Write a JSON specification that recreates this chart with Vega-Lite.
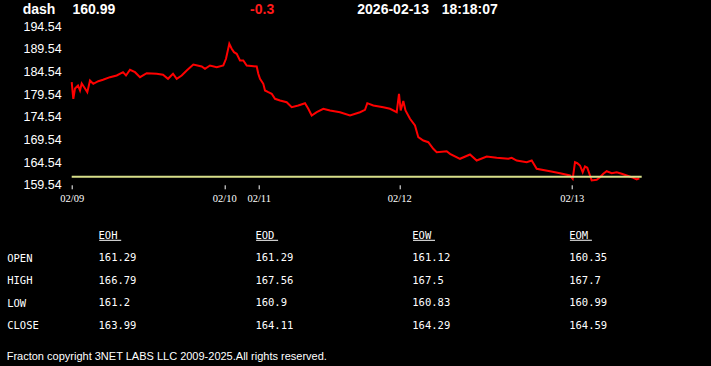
{
  "$schema": "https://vega.github.io/schema/vega-lite/v6.json",
  "background": "black",
  "padding": {"left": 6.7, "top": 0, "right": 69.3, "bottom": 5},
  "config": {"view": {"stroke": null}, "axis": {"labelOverlap": false}},
  "title": {
    "text": "Fracton copyright 3NET LABS LLC 2009-2025.All rights reserved.",
    "orient": "bottom", "anchor": "start", "frame": "bounds",
    "color": "white", "font": "Liberation Sans", "fontSize": 11, "fontWeight": "normal",
    "baseline": "top", "offset": 20
  },
  "datasets": {
    "header": [
      {"item": "symbol", "text": "dash"},
      {"item": "last", "text": "160.99"},
      {"item": "change", "text": "-0.3"},
      {"item": "date", "text": "2026-02-13"},
      {"item": "time", "text": "18:18:07"}
    ],
    "ref": [{"price": 161.29}],
    "price": [
      {"n": 0, "price": 182.18}, {"n": 1.6, "price": 178.52}, {"n": 3.3, "price": 180.79}, {"n": 6.3, "price": 181.46},
      {"n": 8.3, "price": 180.35}, {"n": 10, "price": 181.9}, {"n": 13.3, "price": 180.79}, {"n": 15.6, "price": 179.98},
      {"n": 18.3, "price": 182.56}, {"n": 20, "price": 182.18}, {"n": 21.6, "price": 181.83}, {"n": 26.6, "price": 182.4},
      {"n": 31.3, "price": 182.71}, {"n": 38.3, "price": 183.29}, {"n": 45, "price": 183.66}, {"n": 51.3, "price": 184.39},
      {"n": 54.3, "price": 183.66}, {"n": 58.3, "price": 184.92}, {"n": 63.3, "price": 184.39}, {"n": 68.3, "price": 183.29},
      {"n": 75, "price": 184.17}, {"n": 85, "price": 184.04}, {"n": 91.3, "price": 183.82}, {"n": 96.3, "price": 182.93},
      {"n": 101.3, "price": 184.04}, {"n": 105, "price": 182.93}, {"n": 110, "price": 183.66}, {"n": 115, "price": 184.77},
      {"n": 121.6, "price": 186.09}, {"n": 130, "price": 185.65}, {"n": 133.3, "price": 185.14}, {"n": 138.3, "price": 185.87},
      {"n": 145, "price": 185.49}, {"n": 151.6, "price": 185.87}, {"n": 154.3, "price": 187.35}, {"n": 157.6, "price": 190.66},
      {"n": 160, "price": 189.56}, {"n": 162.3, "price": 188.81}, {"n": 165, "price": 188.45}, {"n": 168.3, "price": 186.97},
      {"n": 171.6, "price": 186.97}, {"n": 175, "price": 185.87}, {"n": 185, "price": 185.65}, {"n": 186.6, "price": 184.04},
      {"n": 188.3, "price": 182.93}, {"n": 191.6, "price": 181.83}, {"n": 193.3, "price": 180.35}, {"n": 196.6, "price": 179.98},
      {"n": 200, "price": 179.62}, {"n": 203.3, "price": 178.52}, {"n": 208.3, "price": 178.15}, {"n": 215, "price": 177.77},
      {"n": 220, "price": 176.67}, {"n": 226.6, "price": 177.04}, {"n": 233.3, "price": 177.55}, {"n": 236.6, "price": 176.31},
      {"n": 240, "price": 174.83}, {"n": 245, "price": 175.56}, {"n": 251.6, "price": 176.31}, {"n": 258.3, "price": 175.94},
      {"n": 268.3, "price": 175.56}, {"n": 278.3, "price": 174.83}, {"n": 288.3, "price": 175.56}, {"n": 293.3, "price": 176.09},
      {"n": 295.6, "price": 177.55}, {"n": 301.6, "price": 177.04}, {"n": 311.6, "price": 176.67}, {"n": 318.3, "price": 176.31},
      {"n": 325, "price": 175.56}, {"n": 327.3, "price": 179.62}, {"n": 329, "price": 175.94}, {"n": 331.6, "price": 178.03},
      {"n": 333.8, "price": 175.94}, {"n": 338.3, "price": 174.11}, {"n": 343.3, "price": 172.63}, {"n": 346.6, "price": 170.05},
      {"n": 351.6, "price": 169.32}, {"n": 356.6, "price": 168.94}, {"n": 361.6, "price": 167.49}, {"n": 365, "price": 166.73},
      {"n": 375, "price": 166.96}, {"n": 378.3, "price": 166.38}, {"n": 388.3, "price": 165.28}, {"n": 398.3, "price": 166.23},
      {"n": 405, "price": 164.9}, {"n": 415, "price": 165.79}, {"n": 425, "price": 165.5}, {"n": 436.6, "price": 165.28},
      {"n": 440, "price": 165.5}, {"n": 445, "price": 164.9}, {"n": 455, "price": 164.53}, {"n": 460, "price": 164.9},
      {"n": 465, "price": 163.07}, {"n": 478.3, "price": 162.54}, {"n": 488.3, "price": 162.1}, {"n": 498.3, "price": 161.59},
      {"n": 501, "price": 160.86}, {"n": 503.3, "price": 164.53}, {"n": 505.6, "price": 164.31}, {"n": 508.3, "price": 163.8},
      {"n": 511, "price": 162.32}, {"n": 513.3, "price": 163.58}, {"n": 515.6, "price": 163.29}, {"n": 518.3, "price": 161.59},
      {"n": 520, "price": 160.49}, {"n": 525, "price": 160.64}, {"n": 528.3, "price": 161.22}, {"n": 531.6, "price": 161.97},
      {"n": 535, "price": 162.54}, {"n": 540, "price": 162.1}, {"n": 545, "price": 162.32}, {"n": 550, "price": 161.97},
      {"n": 555, "price": 161.59}, {"n": 560, "price": 161.22}, {"n": 565, "price": 160.71}, {"n": 567.6, "price": 160.99}
    ],
    "table": [
      {"row": "OPEN", "col": "EOH", "v": 161.29}, {"row": "OPEN", "col": "EOD", "v": 161.29},
      {"row": "OPEN", "col": "EOW", "v": 161.12}, {"row": "OPEN", "col": "EOM", "v": 160.35},
      {"row": "HIGH", "col": "EOH", "v": 166.79}, {"row": "HIGH", "col": "EOD", "v": 167.56},
      {"row": "HIGH", "col": "EOW", "v": 167.5}, {"row": "HIGH", "col": "EOM", "v": 167.7},
      {"row": "LOW", "col": "EOH", "v": 161.2}, {"row": "LOW", "col": "EOD", "v": 160.9},
      {"row": "LOW", "col": "EOW", "v": 160.83}, {"row": "LOW", "col": "EOM", "v": 160.99},
      {"row": "CLOSE", "col": "EOH", "v": 163.99}, {"row": "CLOSE", "col": "EOD", "v": 164.11},
      {"row": "CLOSE", "col": "EOW", "v": 164.29}, {"row": "CLOSE", "col": "EOM", "v": 164.59}
    ]
  },
  "spacing": 6.2,
  "bounds": "flush",
  "vconcat": [
    {
      "width": 570, "height": 20,
      "data": {"name": "header"},
      "layer": [
        {"transform": [{"filter": "datum.item == 'symbol'"}],
         "mark": {"type": "text", "align": "left", "baseline": "middle", "font": "Liberation Sans", "fontWeight": "bold", "fontSize": 14, "color": "white"},
         "encoding": {"x": {"datum": -49, "type": "quantitative", "scale": {"domain": [0, 570], "nice": false, "zero": false}, "axis": null}, "text": {"field": "text"}}},
        {"transform": [{"filter": "datum.item == 'last'"}],
         "mark": {"type": "text", "align": "left", "baseline": "middle", "font": "Liberation Sans", "fontWeight": "bold", "fontSize": 14, "color": "white"},
         "encoding": {"x": {"datum": 0.8, "type": "quantitative", "axis": null}, "text": {"field": "text"}}},
        {"transform": [{"filter": "datum.item == 'change'"}],
         "mark": {"type": "text", "align": "left", "baseline": "middle", "font": "Liberation Sans", "fontWeight": "bold", "fontSize": 14, "color": "#ff1a1a"},
         "encoding": {"x": {"datum": 178.4, "type": "quantitative", "axis": null}, "text": {"field": "text"}}},
        {"transform": [{"filter": "datum.item == 'date'"}],
         "mark": {"type": "text", "align": "left", "baseline": "middle", "font": "Liberation Sans", "fontWeight": "bold", "fontSize": 14, "color": "white"},
         "encoding": {"x": {"datum": 285.6, "type": "quantitative", "axis": null}, "text": {"field": "text"}}},
        {"transform": [{"filter": "datum.item == 'time'"}],
         "mark": {"type": "text", "align": "left", "baseline": "middle", "font": "Liberation Sans", "fontWeight": "bold", "fontSize": 14, "color": "white"},
         "encoding": {"x": {"datum": 370.1, "type": "quantitative", "axis": null}, "text": {"field": "text"}}}
      ]
    },
    {
      "width": 570, "height": 158.6,
      "encoding": {
        "y": {"field": "price", "type": "quantitative",
          "scale": {"domain": [159.54, 194.54], "nice": false, "zero": false},
          "axis": {"values": [159.54, 164.54, 169.54, 174.54, 179.54, 184.54, 189.54, 194.54], "format": ".2f",
            "domain": false, "ticks": false, "grid": false, "labelColor": "white", "labelFont": "Liberation Sans",
            "labelFontSize": 12.5, "labelPadding": 10.5, "labelOverlap": false, "labelFlush": false, "title": null}}
      },
      "layer": [
        {
          "data": {"name": "price"},
          "mark": {"type": "line", "color": "#ff0000", "strokeWidth": 2},
          "encoding": {
            "x": {"field": "n", "type": "quantitative",
              "scale": {"domain": [0, 570], "nice": false, "zero": false},
              "axis": {"orient": "bottom", "values": [0, 152.6, 187, 327.6, 500],
                "labelExpr": "datum.value < 1 ? '02/09' : datum.value < 160 ? '02/10' : datum.value < 200 ? '02/11' : datum.value < 400 ? '02/12' : '02/13'",
                "domain": false, "ticks": true, "tickSize": 4, "tickColor": "white", "tickWidth": 1,
                "labelColor": "white", "labelFont": "Liberation Sans Narrow", "labelFontSize": 10.5, "labelPadding": 4.5,
                "labelFlush": false, "labelOverlap": false, "grid": false, "title": null}}
          }
        },
        {
          "data": {"name": "ref"},
          "mark": {"type": "rule", "color": "#d8df8a", "strokeWidth": 2}
        }
      ]
    },
    {
      "width": 524.3, "height": 134.1,
      "data": {"name": "table"},
      "encoding": {
        "x": {"field": "col", "type": "nominal", "scale": {"type": "point", "domain": ["EOH", "EOD", "EOW", "EOM"], "padding": 0.1708}, "axis": null}
      },
      "layer": [
        {
          "mark": {"type": "text", "align": "left", "baseline": "middle", "font": "DejaVu Sans Mono", "fontSize": 10.5, "color": "white"},
          "encoding": {
            "y": {"field": "row", "type": "nominal",
              "scale": {"type": "point", "domain": ["HDR", "OPEN", "HIGH", "LOW", "CLOSE"], "padding": 1.1332, "align": 1},
              "axis": {"values": ["OPEN", "HIGH", "LOW", "CLOSE"], "labelAlign": "left", "labelBaseline": "middle", "labelPadding": 65,
                "labelFont": "DejaVu Sans Mono", "labelFontSize": 10.5, "labelColor": "white",
                "ticks": false, "domain": false, "grid": false, "title": null}},
            "text": {"field": "v", "type": "nominal"}
          }
        },
        {
          "transform": [{"filter": "datum.row == 'OPEN'"}],
          "mark": {"type": "text", "align": "left", "baseline": "middle", "font": "DejaVu Sans Mono", "fontSize": 10.5, "color": "white"},
          "encoding": {"y": {"datum": "HDR", "type": "nominal"}, "text": {"field": "col", "type": "nominal"}}
        },
        {
          "transform": [{"filter": "datum.row == 'OPEN'"}],
          "mark": {"type": "tick", "orient": "horizontal", "size": 22, "thickness": 1, "xOffset": 11.7, "yOffset": 4.2, "color": "white", "opacity": 1},
          "encoding": {"y": {"datum": "HDR", "type": "nominal"}}
        }
      ]
    }
  ]
}
